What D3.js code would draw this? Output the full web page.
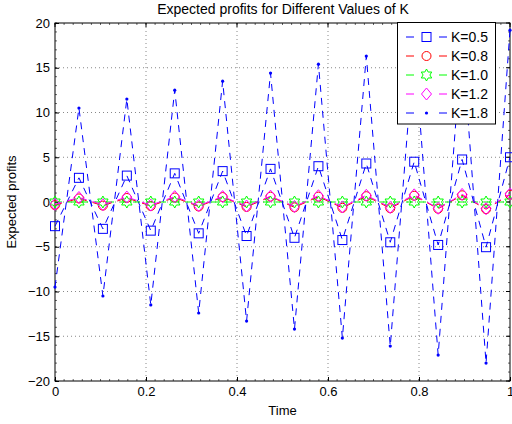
<!DOCTYPE html>
<html><head><meta charset="utf-8">
<script src="https://cdn.jsdelivr.net/npm/d3@7"></script>
<style>body{margin:0;background:#fff}text{font-family:"Liberation Sans",Arial,sans-serif}</style>
</head><body>
<svg id="c" width="512" height="424"></svg>
<script>
const N = 20;
const time = d3.range(N).map(i => i / 19);
const k05 = [-2.7, 2.7, -3.0, 2.95, -3.2, 3.2, -3.5, 3.45, -3.8, 3.7, -4.0, 4.0, -4.25, 4.3, -4.5, 4.5, -4.8, 4.75, -5.05, 5.0];
const k08 = [-0.35, 0.4, -0.4, 0.45, -0.45, 0.5, -0.5, 0.55, -0.55, 0.6, -0.6, 0.6, -0.65, 0.65, -0.7, 0.7, -0.75, 0.75, -0.8, 0.8];
const k10 = [0, 0, 0, 0, 0, 0, 0, 0, 0, 0, 0, 0, 0, 0, 0, 0, 0, 0, 0, 0];
const k12 = [-0.25, 0.5, -0.3, 0.55, -0.35, 0.6, -0.4, 0.6, -0.45, 0.65, -0.5, 0.7, -0.55, 0.75, -0.6, 0.8, -0.7, 0.85, -0.75, 0.9];
const k18 = [-9.5, 10.5, -10.5, 11.5, -11.5, 12.5, -12.4, 13.5, -13.3, 14.4, -14.2, 15.4, -15.2, 16.3, -16.1, 17.3, -17.1, 18.2, -18.0, 19.2];
const legendLabels = ["K=0.5", "K=0.8", "K=1.0", "K=1.2", "K=1.8"];
const xTicks = [0, 0.2, 0.4, 0.6, 0.8, 1];
const yTicks = [-20, -15, -10, -5, 0, 5, 10, 15, 20];

const series = [
  {name: legendLabels[0], v: k05, color: "#0000ff", marker: "square"},
  {name: legendLabels[1], v: k08, color: "#ff0000", marker: "circle"},
  {name: legendLabels[2], v: k10, color: "#00ff00", marker: "hexagram"},
  {name: legendLabels[3], v: k12, color: "#ff00ff", marker: "diamond"},
  {name: legendLabels[4], v: k18, color: "#0000ff", marker: "dot"}
];

const L = 55, R = 510, T = 23, B = 381;
const svg = d3.select("#c");
const x = d3.scaleLinear().domain([0, 1]).range([L, R]);
const y = d3.scaleLinear().domain([-20, 20]).range([B, T]);

// grid
const g = svg.append("g");
xTicks.slice(1, -1).forEach(t => g.append("line").attr("x1", x(t)).attr("x2", x(t)).attr("y1", T).attr("y2", B)
  .attr("stroke", "#888").attr("stroke-width", 1).attr("stroke-dasharray", "1,3"));
yTicks.slice(1, -1).forEach(t => g.append("line").attr("x1", L).attr("x2", R).attr("y1", y(t)).attr("y2", y(t))
  .attr("stroke", "#888").attr("stroke-width", 1).attr("stroke-dasharray", "1,3"));

// minor ticks
const minorY = d3.range(-20, 20.01, 1);
const minorX = d3.range(0, 1.0001, 0.02);
minorY.forEach(t => {
  g.append("line").attr("x1", L).attr("x2", L + 2).attr("y1", y(t)).attr("y2", y(t)).attr("stroke", "#000").attr("stroke-width", 0.6);
  g.append("line").attr("x1", R).attr("x2", R - 2).attr("y1", y(t)).attr("y2", y(t)).attr("stroke", "#000").attr("stroke-width", 0.6);
});
minorX.forEach(t => {
  g.append("line").attr("x1", x(t)).attr("x2", x(t)).attr("y1", B).attr("y2", B - 2).attr("stroke", "#000").attr("stroke-width", 0.6);
  g.append("line").attr("x1", x(t)).attr("x2", x(t)).attr("y1", T).attr("y2", T + 2).attr("stroke", "#000").attr("stroke-width", 0.6);
});

// axes
const xAxis = d3.axisBottom(x).tickValues(xTicks).tickSize(-4).tickPadding(6).tickFormat(d => d3.format("")(d));
const yAxis = d3.axisLeft(y).tickValues(yTicks).tickSize(-4).tickPadding(5).tickFormat(d => d < 0 ? "\u2212" + Math.abs(d) : d);
const ax = svg.append("g").attr("transform", `translate(0,${B})`).call(xAxis);
const ay = svg.append("g").attr("transform", `translate(${L},0)`).call(yAxis);
[ax, ay].forEach(a => {
  a.select(".domain").remove();
  a.selectAll("text").attr("font-size", 13).attr("fill", "#000").style("font-family", '"Liberation Sans",Arial,sans-serif');
  a.selectAll(".tick line").attr("stroke", "#000");
});
ax.selectAll("text").attr("dy", "0.71em");
// top/right ticks
xTicks.forEach(t => svg.append("line").attr("x1", x(t)).attr("x2", x(t)).attr("y1", T).attr("y2", T + 4).attr("stroke", "#000"));
yTicks.forEach(t => svg.append("line").attr("x1", R).attr("x2", R - 4).attr("y1", y(t)).attr("y2", y(t)).attr("stroke", "#000"));

svg.append("rect").attr("x", L).attr("y", T).attr("width", R - L).attr("height", B - T)
  .attr("fill", "none").attr("stroke", "#000").attr("stroke-width", 1);

function drawMarker(sel, m, cx, cy, color) {
  if (m === "square") sel.append("rect").attr("x", cx - 4.5).attr("y", cy - 4.5).attr("width", 9).attr("height", 9).attr("fill", "none").attr("stroke", color);
  else if (m === "circle") sel.append("circle").attr("cx", cx).attr("cy", cy).attr("r", 4.5).attr("fill", "none").attr("stroke", color);
  else if (m === "diamond") sel.append("path").attr("d", `M${cx},${cy - 6}L${cx + 5},${cy}L${cx},${cy + 6}L${cx - 5},${cy}Z`).attr("fill", "none").attr("stroke", color);
  else if (m === "dot") sel.append("circle").attr("cx", cx).attr("cy", cy).attr("r", 1.6).attr("fill", color);
  else if (m === "hexagram") {
    const pts = [];
    for (let i = 0; i < 12; i++) {
      const a = -Math.PI / 2 + i * Math.PI / 6;
      const r = i % 2 === 0 ? 6 : 3.4;
      pts.push([cx + r * Math.cos(a), cy + r * Math.sin(a)]);
    }
    sel.append("path").attr("d", "M" + pts.map(p => p.join(",")).join("L") + "Z").attr("fill", "none").attr("stroke", color);
  }
}

const line = d3.line().x((d, i) => x(time[i])).y(d => y(d));
series.forEach(s => {
  const sg = svg.append("g");
  sg.append("path").attr("d", line(s.v)).attr("fill", "none").attr("stroke", s.color).attr("stroke-width", 1).attr("stroke-dasharray", "7,6");
  s.v.forEach((v, i) => drawMarker(sg, s.marker, x(time[i]), y(v), s.color));
});

// legend
const lg = svg.append("g");
lg.append("rect").attr("x", 397.5).attr("y", 22.5).attr("width", 98).attr("height", 101.5).attr("fill", "#fff").attr("stroke", "#000").attr("stroke-width", 1);
series.forEach((s, i) => {
  const yy = 37 + i * 19;
  lg.append("line").attr("x1", 406).attr("x2", 414).attr("y1", yy).attr("y2", yy).attr("stroke", s.color);
  lg.append("line").attr("x1", 439).attr("x2", 447).attr("y1", yy).attr("y2", yy).attr("stroke", s.color);
  drawMarker(lg, s.marker, 426.5, yy, s.color);
  lg.append("text").attr("x", 451).attr("y", yy).attr("dy", "0.36em").attr("font-size", 14).text(s.name);
});

svg.append("text").attr("x", 283).attr("y", 14).attr("text-anchor", "middle").attr("font-size", 14).text("Expected profits for Different Values of K");
svg.append("text").attr("x", x(0.5)).attr("y", 415).attr("text-anchor", "middle").attr("font-size", 13).text("Time");
svg.append("text").attr("transform", `translate(16,${(T + B) / 2}) rotate(-90)`).attr("text-anchor", "middle").attr("font-size", 13).text("Expected profits");
</script>
</body></html>
